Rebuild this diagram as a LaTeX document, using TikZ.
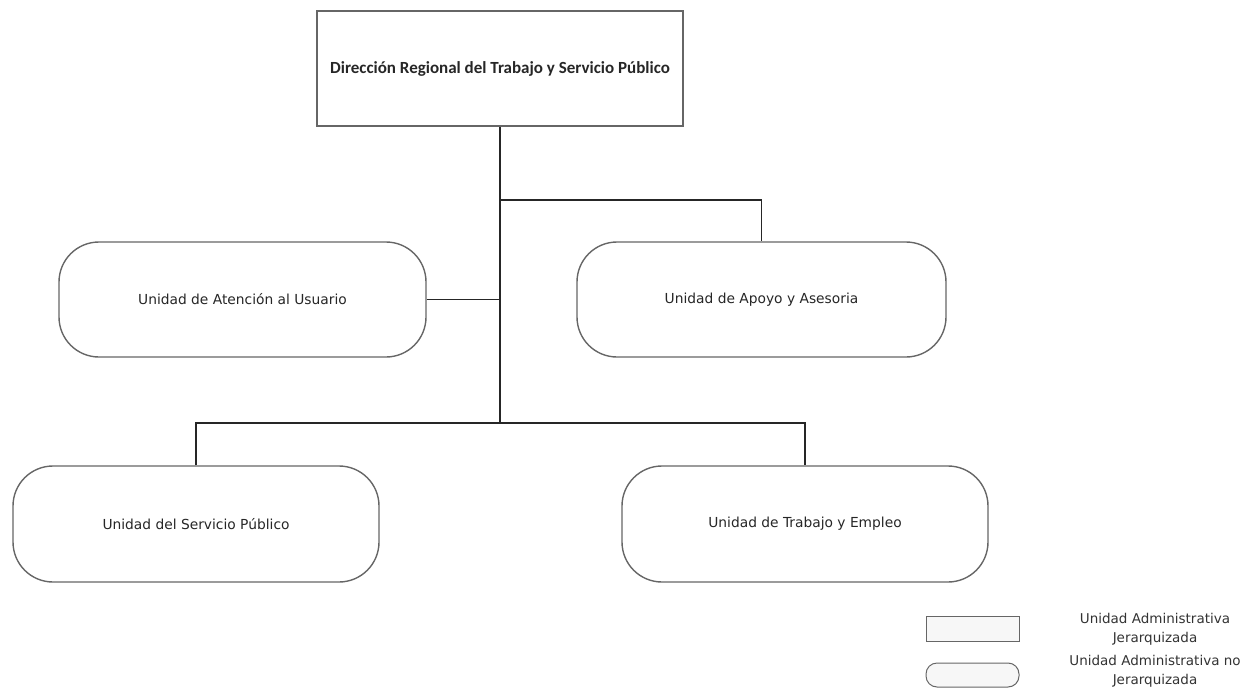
\documentclass[tikz,border=0pt]{standalone}
\usepackage{fontspec}
\setmainfont{DejaVu Sans}
\newfontfamily\titlefont{Carlito}
\usepackage{tikz}
\usetikzlibrary{positioning}
\tikzset{
  jer unit/.style={
    draw=black!60,
    line width=1.4pt,
    rectangle,
    minimum width=366pt,
    minimum height=115pt,
    inner sep=0pt,
    text=black!85
  },
  nojer unit/.style={
    jer unit,
    rounded corners=40pt,
    font=\fontsize{13.8}{16}\selectfont
  },
  legend text/.style={
    align=center,
    inner sep=0pt,
    text=black!80,
    font=\fontsize{13.5}{19}\selectfont
  },
  link/.style={
    line width=1.8pt,
    black!85
  }
}

\begin{document}
\begin{tikzpicture}[x=1pt, y=-1pt]
   \useasboundingbox (0,0) rectangle (1250,690);
   \node[jer unit, font=\titlefont\bfseries\fontsize{17}{20}\selectfont] (dir) at (500,68.5) {Dirección Regional del Trabajo y Servicio Público};
   \node[nojer unit, minimum width=367pt] (aten) at (242.5,299.5) {Unidad de Atención al Usuario};
   \node[nojer unit, minimum width=369pt] (apoyo) at (761.5,299.5) {Unidad de Apoyo y Asesoria};
   \node[nojer unit, minimum height=116pt] (serv) at (196,524) {Unidad del Servicio Público};
   \node[nojer unit, minimum height=116pt] (empleo) at (805,524) {Unidad de Trabajo y Empleo};

   \coordinate (top fork) at (500,200);
   \coordinate (low fork) at (500,423);
   \draw[link] (dir) -- (low fork);
   \draw[link] (top fork) -| (apoyo);
   \draw[link] (aten) -- (aten -| low fork);
   \draw[link] (serv) |- (low fork) -| (empleo);

   \node[jer unit, minimum width=93pt, minimum height=25pt, fill=gray!6, line width=1pt] (leg jer) at (972.5,628.5) {};
   \node[nojer unit, minimum width=93pt, minimum height=24pt, rounded corners=11pt, fill=gray!6, line width=1pt] (leg nojer) at (972.5,675) {};
   \node[legend text] (leg jer text) at (1155,629.5) {Unidad Administrativa\\Jerarquizada};
   \node[legend text] (leg nojer text) at (1155,671) {Unidad Administrativa no\\Jerarquizada};
\end{tikzpicture}
\end{document}
